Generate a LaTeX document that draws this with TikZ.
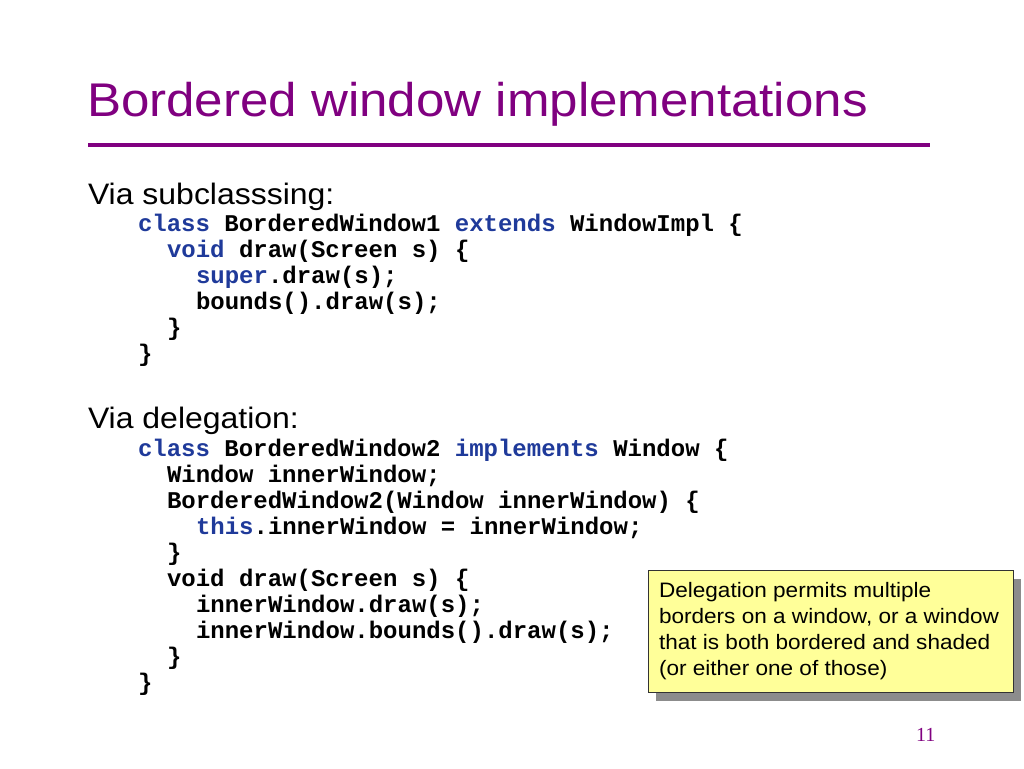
\documentclass[tikz,border=0pt]{standalone}
\usepackage{fontspec}
\setmainfont{Liberation Sans}[FakeStretch=1.08]
\newfontfamily\codefont{Liberation Mono}
\newfontfamily\numfont{Liberation Serif}
\usetikzlibrary{shadows}
\definecolor{titlepurple}{RGB}{128,0,128}
\definecolor{kwblue}{RGB}{31,58,154}
\definecolor{noteyellow}{RGB}{255,255,153}
\definecolor{shadowgray}{RGB}{140,140,140}
\newcommand\kw[1]{\textcolor{kwblue}{#1}}
\begin{document}
\begin{tikzpicture}[x=1pt,y=-1pt,
  every node/.style={inner sep=0pt, outer sep=0pt, anchor=base west},
  titletext/.style={font=\fontsize{47.3}{50}\selectfont, text=titlepurple},
  bodytext/.style={font=\fontsize{29.6}{32}\selectfont},
  codetext/.style={font=\codefont\bfseries\fontsize{24}{26}\selectfont},
  notetext/.style={font=\fontsize{20.9}{26}\selectfont},
  notebox/.style={draw=black!80, line width=1pt, fill=noteyellow, anchor=north west,
    minimum width=365pt, minimum height=122pt,
    drop shadow={shadow xshift=8pt, shadow yshift=-9pt, fill=shadowgray, opacity=1}},
  pagenum/.style={font=\numfont\fontsize{20}{22}\selectfont, text=titlepurple}]

\useasboundingbox (0,0) rectangle (1024,768);
\fill[white] (0,0) rectangle (1024,768);

% title
\node[titletext] (title) at (87,116) {Bordered window implementations};
\coordinate (rulel) at (88,145);
\coordinate (ruler) at (930,145);
\draw[titlepurple, line width=4pt] (rulel) -- (ruler);

% subclassing
\node[bodytext] (sub) at (88,204) {Via subclasssing:};
\node[codetext] (s1) at (138,231) {\kw{class} BorderedWindow1 \kw{extends} WindowImpl \{};
\node[codetext] (s2) at (167,257) {\kw{void} draw(Screen s) \{};
\node[codetext] (s3) at (196,283) {\kw{super}.draw(s);};
\node[codetext] (s4) at (196,309) {bounds().draw(s);};
\node[codetext] (s5) at (167,335) {\}};
\node[codetext] (s6) at (138,361) {\}};

% delegation
\node[bodytext] (del) at (88,428) {Via delegation:};
\node[codetext] (d1) at (138,456) {\kw{class} BorderedWindow2 \kw{implements} Window \{};
\node[codetext] (d2) at (167,482) {Window innerWindow;};
\node[codetext] (d3) at (167,508) {BorderedWindow2(Window innerWindow) \{};
\node[codetext] (d4) at (196,534) {\kw{this}.innerWindow = innerWindow;};
\node[codetext] (d5) at (167,560) {\}};
\node[codetext] (d6) at (167,586) {void draw(Screen s) \{};
\node[codetext] (d7) at (196,612) {innerWindow.draw(s);};
\node[codetext] (d8) at (196,638) {innerWindow.bounds().draw(s);};
\node[codetext] (d9) at (167,664) {\}};
\node[codetext] (d10) at (138,690) {\}};

% note
\node[notebox] (note) at (648,570) {};
\node[notetext] (n1) at (659,597) {Delegation permits multiple};
\node[notetext] (n2) at (659,623) {borders on a window, or a window};
\node[notetext] (n3) at (659,649) {that is both bordered and shaded};
\node[notetext] (n4) at (659,675) {(or either one of those)};

% page number
\node[pagenum] (page) at (916,741) {11};
\end{tikzpicture}
\end{document}
